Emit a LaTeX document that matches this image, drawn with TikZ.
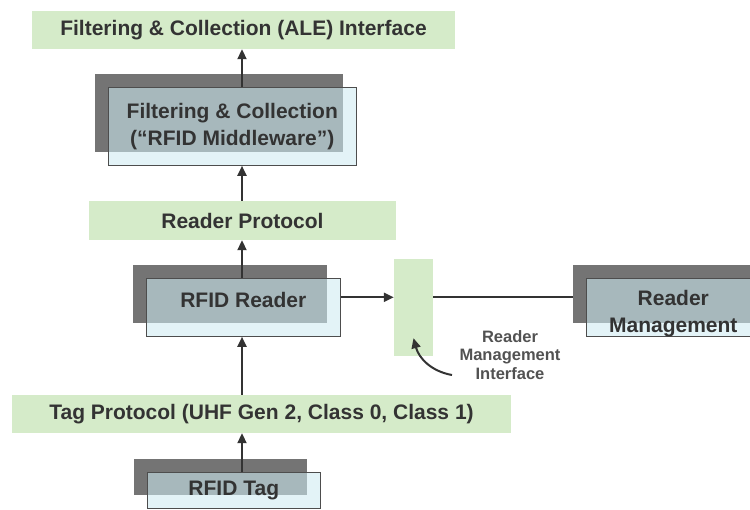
\documentclass[tikz,border=0pt]{standalone}
\usepackage{xcolor}
\usepackage{fontspec}
\setmainfont{Liberation Sans}
\usetikzlibrary{arrows.meta, positioning}

\definecolor{ifgreen}{HTML}{D5EBC9}
\definecolor{shadowgrey}{HTML}{747474}
\definecolor{frontblue}{HTML}{CEEAF1}
\definecolor{edgegrey}{HTML}{4D4D4D}
\definecolor{linegrey}{HTML}{333333}
\definecolor{txtgrey}{HTML}{333333}

\newcommand\diagfont{\fontsize{21}{27}\selectfont\bfseries}
\newcommand\notefont{\fontsize{16.5}{18.5}\selectfont\bfseries}

\begin{document}
\begin{tikzpicture}[x=1pt, y=-1pt, >={Triangle[length=10pt, width=9pt]},
    iface/.style={fill=ifgreen, inner sep=0pt, text=txtgrey, font=\diagfont},
    shadowbox/.style={fill=shadowgrey, inner sep=0pt},
    unitbox/.style={draw=edgegrey, line width=1pt, fill=frontblue, fill opacity=0.575,
        text opacity=1, inner sep=0pt, align=center, text=txtgrey, font=\diagfont},
    note/.style={inner sep=0pt, align=center, text=txtgrey!85, font=\notefont},
    link/.style={draw=linegrey, line width=2pt}]
        \useasboundingbox (0,0) rectangle (750,509);
        \coordinate (spine) at (242,0);
        % interfaces
        \node[iface, minimum width=423pt, minimum height=38pt] (ale) at (243.5,30) {Filtering \& Collection (ALE) Interface};
        \node[iface, minimum width=307pt, minimum height=39pt] (rprot) at (242.5,220.5) {Reader Protocol};
        \node[iface, minimum width=499pt, minimum height=38pt] (tprot) at (261.5,414) {Tag Protocol (UHF Gen 2, Class 0, Class 1)};
        \node[iface, minimum width=39pt, minimum height=97pt] (rmbar) at (413.5,307.5) {};
        % components: shadow first, then the front box
        \node[shadowbox, minimum width=248pt, minimum height=78pt] (midsh) at (219,113) {};
        \node[unitbox, minimum width=248pt, minimum height=78pt, below right=13pt and 13pt of midsh.north west] (mid) {Filtering \& Collection\\(“RFID Middleware”)};
        \node[shadowbox, minimum width=194pt, minimum height=58pt] (readersh) at (230,294) {};
        \node[unitbox, minimum width=194pt, minimum height=58pt, text height=15pt, text depth=14pt, below right=13pt and 13pt of readersh.north west] (reader) {RFID Reader};
        \node[shadowbox, minimum width=173pt, minimum height=36pt] (tagsh) at (220.5,477) {};
        \node[unitbox, minimum width=173pt, minimum height=36pt, below right=13pt and 13pt of tagsh.north west] (tag) {RFID Tag};
        \node[shadowbox, minimum width=190pt, minimum height=58pt] (rmsh) at (668,294) {};
        \node[unitbox, minimum width=174pt, minimum height=58pt, below right=13pt and 13pt of rmsh.north west] (rm) {\rule{0pt}{27pt}Reader\\Management};
        % connectors
        \draw[link, ->] (spine |- tag.north) -- (spine |- tprot.south);
        \draw[link, ->] (spine |- tprot.north) -- (spine |- reader.south);
        \draw[link, ->] (spine |- reader.north) -- (spine |- rprot.south);
        \draw[link, ->] (spine |- rprot.north) -- (spine |- mid.south);
        \draw[link, ->] (spine |- mid.north) -- (spine |- ale.south);
        \draw[link, ->] ([yshift=10pt]reader.east) coordinate (rdout) -- (rdout -| rmbar.west);
        \draw[link] (rdout -| rmbar.east) -- (rdout -| rmsh.west);
        % annotation
        \node[note] (rmnote) at (510,355) {Reader\\Management\\Interface};
        \coordinate (notetail) at (452,375);
        \draw[link, ->] (notetail) to[out=170, in=-75] ([yshift=18pt]rmbar.south);
    \end{tikzpicture}
\end{document}
